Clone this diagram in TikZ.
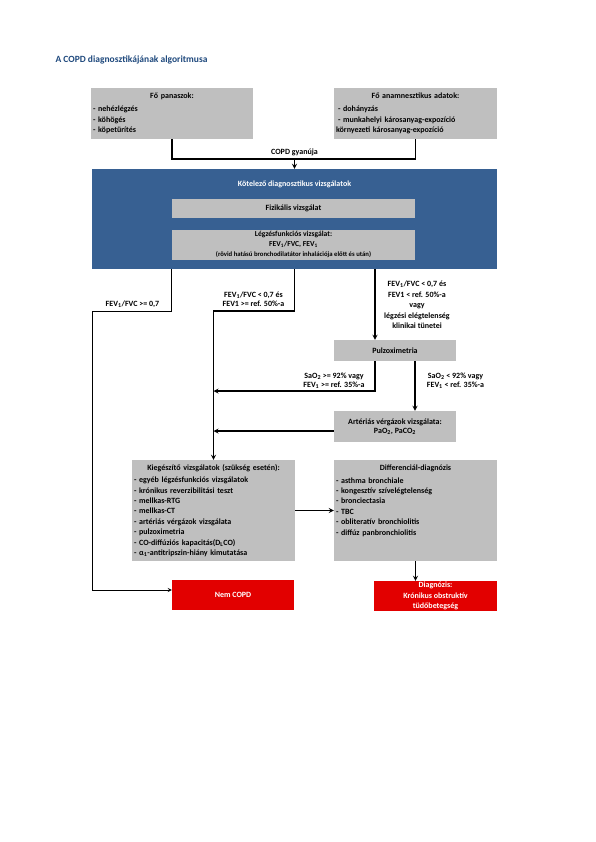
\documentclass[tikz,border=0pt]{standalone}
\usepackage{fontspec}
\setmainfont{Carlito}
\usepackage{xcolor}
\usepackage{tikz}
\usetikzlibrary{shapes.geometric, arrows, positioning, calc}

\definecolor{boxgray}{RGB}{191,191,191}
\definecolor{copdblue}{RGB}{55,96,146}
\definecolor{copdred}{RGB}{226,0,0}
\definecolor{titleblue}{RGB}{31,73,125}

\begin{document}
\begin{tikzpicture}[
   x=1pt, y=-1pt,
   font=\fontsize{8}{10.4}\selectfont\bfseries,
   graybox/.style = {rectangle, fill=boxgray, inner sep=2pt, align=center},
   listbox/.style = {graybox, align=left, text width=159pt, minimum height=101pt},
   bluebox/.style = {rectangle, fill=copdblue},
   redbox/.style = {rectangle, fill=copdred, text=white, align=center, inner sep=2pt, minimum width=122pt, minimum height=30pt},
   lbl/.style = {align=center, font=\fontsize{8}{9.2}\selectfont\bfseries},
   line/.style = {draw, -stealth, line width=1.2pt},
   plain/.style = {draw, line width=1.2pt},
   thinline/.style = {draw, -stealth, line width=0.8pt}
   ]
  \useasboundingbox (0,0) rectangle (595,842);

  % Title
  \node[anchor=west, text=titleblue, font=\fontsize{9.5}{11}\selectfont\bfseries] (cim) at (52,60)
   {A COPD diagnosztikájának algoritmusa};

  % Complaints and history boxes
  \node[listbox, text width=158pt, minimum height=51pt] (panasz) at (172,113.5)
   {\makebox[\linewidth]{Fő panaszok:}\\[3pt]
   - nehézlégzés\\
   - köhögés\\
   - köpetürítés};
  \node[listbox, minimum height=51pt] (anamnez) at (415.5,113.5)
   {\makebox[\linewidth]{Fő anamnesztikus adatok:}\\[3pt]
   \hspace*{2pt}- dohányzás\\
   \hspace*{2pt}- munkahelyi károsanyag-expozíció\\
   környezeti károsanyag-expozíció};

  % Mandatory tests box
  \node[bluebox, minimum width=405pt, minimum height=100pt] (kotelezo) at (294.5,219) {};
  \node[text=white] (kotelezocim) at (294.5,184) {Kötelező diagnosztikus vizsgálatok};
  \node[graybox, minimum width=243pt, minimum height=19pt] (fizikalis) at (293.5,208.5)
   {Fizikális vizsgálat};
  \node[graybox, minimum width=243pt, minimum height=30pt, inner ysep=0pt,
   font=\fontsize{7.6}{10.3}\selectfont\bfseries] (legzes) at (293.5,244.5)
   {Légzésfunkciós vizsgálat:\\
   FEV\textsubscript{1}/FVC, FEV\textsubscript{1}\\
   {\fontsize{6.7}{10.3}\selectfont (rövid hatású bronchodilatátor inhalációja előtt és után)}};

  % Pulse oximetry and blood gas boxes
  \node[graybox, minimum width=122pt, minimum height=21pt] (pulzox) at (395,350.5) {Pulzoximetria};
  \node[graybox, minimum width=122pt, minimum height=31pt, font=\fontsize{8}{9}\selectfont\bfseries] (arteria) at (395,426.5)
   {Artériás vérgázok vizsgálata:\\
   PaO\textsubscript{2}, PaCO\textsubscript{2}};

  % Supplementary tests and differential diagnosis
  \node[listbox] (kieg) at (213.5,510.5)
   {\makebox[\linewidth]{Kiegészítő vizsgálatok (szükség esetén):}\\[2pt]
   - egyéb légzésfunkciós vizsgálatok\\
   - krónikus reverzibilitási teszt\\
   - mellkas-RTG\\
   - mellkas-CT\\
   - artériás vérgázok vizsgálata\\
   - pulzoximetria\\
   - CO-diffúziós kapacitás(D\textsubscript{L}CO)\\
   - α\textsubscript{1}-antitripszin-hiány kimutatása};
  \node[listbox] (diff) at (415.5,510.5)
   {\makebox[\linewidth]{Differenciál-diagnózis}\\[2pt]
   - asthma bronchiale\\
   - kongesztív szívelégtelenség\\
   - bronciectasia\\
   - TBC\\
   - obliteratív bronchiolitis\\
   - diffúz panbronchiolitis\\
   \mbox{}\\
   \mbox{}};

  % Outcome boxes
  \node[redbox] (nemcopd) at (233,595) {Nem COPD};
  \node[redbox, minimum width=123pt, inner ysep=0pt, font=\fontsize{8}{10.5}\selectfont\bfseries] (diagnozis) at (435.5,596)
   {Diagnózis:\\
   Krónikus obstruktív\\
   tüdőbetegség};

  % Bend points
  \coordinate (gyanu) at (294.5,159);
  \coordinate (bal) at (92,311);
  \coordinate (kozep) at (213.5,311);
  \coordinate (kozep2) at (213.5,391);
  \coordinate (jobb) at ([xshift=-20pt]pulzox.north);
  \coordinate (pbal) at ([xshift=-20pt]pulzox.south);
  \coordinate (pjobb) at ([xshift=20pt]pulzox.south);
  \coordinate (abal) at ([yshift=-4.5pt]arteria.west);

  % Arrows
  \draw[plain] (panasz.south) |- (gyanu) -| (anamnez.south);
  \draw[line] (gyanu) -- (kotelezo.north);
  \draw[thinline] (kotelezo.south -| legzes.west) |- (bal) |- ([yshift=5pt]nemcopd.west);
  \draw[line] (kotelezo.south) |- (kozep) -- (kieg.north);
  \draw[line] (kotelezo.south -| jobb) -- (jobb);
  \draw[line] (pbal) |- (kozep2);
  \draw[line] (pjobb) -- (pjobb |- arteria.north);
  \draw[line] (abal) -- (abal -| kieg.north);
  \draw[line] (kieg) -- (diff);
  \draw[line] (diff.south) -- (diff.south |- diagnozis.north);

  % Arrow labels
  \node[lbl, above=0pt of gyanu] (gyanucim) {COPD gyanúja};
  \node[lbl] (felta) at (132.5,304) {FEV\textsubscript{1}/FVC >= 0,7};
  \node[lbl] (feltb) at (253.5,299.5) {FEV\textsubscript{1}/FVC < 0,7 és\\ FEV1 >= ref. 50\%-a};
  \node[lbl, font=\fontsize{8}{10.5}\selectfont\bfseries] (feltc) at (417,305)
   {FEV\textsubscript{1}/FVC < 0,7 és\\ FEV1 < ref. 50\%-a\\ vagy\\ légzési elégtelenség\\ klinikai tünetei};
  \node[lbl] (feltd) at (334,380.5) {SaO\textsubscript{2} >= 92\% vagy\\ FEV\textsubscript{1} >= ref. 35\%-a};
  \node[lbl] (felte) at (455.5,380.5) {SaO\textsubscript{2} < 92\% vagy\\ FEV\textsubscript{1} < ref. 35\%-a};
\end{tikzpicture}
\end{document}
